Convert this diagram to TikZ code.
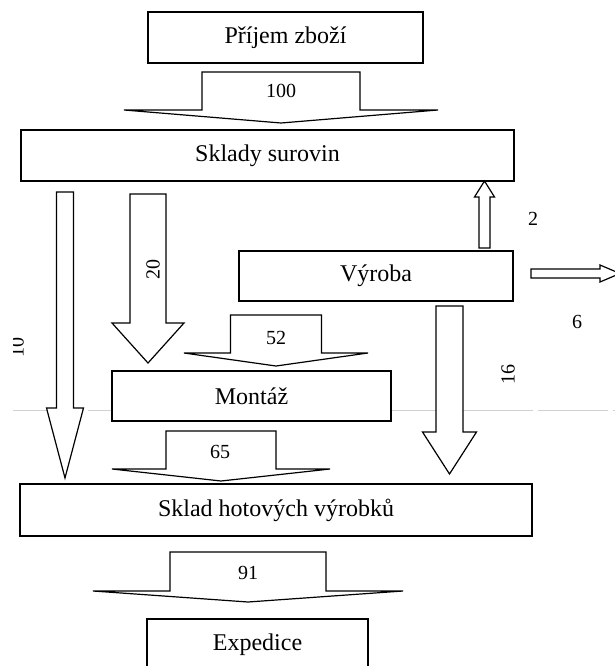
\documentclass[tikz,border=0pt]{standalone}
\usepackage{fontspec}
\setmainfont{Liberation Serif}
% vertical block arrow: centre x, shaft half width, top y, shoulder y, head half width, tip y
\newcommand{\vflow}[6]{%
  \draw[flow] (#1-#2,#3) -- (#1+#2,#3) -- (#1+#2,#4) -- (#1+#5,#4) -- (#1,#6)
    -- (#1-#5,#4) -- (#1-#2,#4) -- cycle;}
\begin{document}
\begin{tikzpicture}[x=1pt,y=-1pt,
  box/.style={draw, line width=1.8pt, fill=white, inner sep=0pt,
    font=\fontsize{24}{28}\selectfont},
  flow/.style={draw, line width=1.2pt, line join=miter, fill=white},
  qty/.style={font=\fontsize{20}{24}\selectfont, inner sep=0pt}]
\useasboundingbox (0,0) rectangle (615,666);

% faint rule running across the sheet
\draw[black!18, line width=0.8pt, dash pattern=on 70pt off 5pt] (13,410) -- (615,410);

% stations
\node[box, minimum width=275pt, minimum height=51pt] (prijem)  at (285.5,37.5) {Příjem zboží};
\node[box, minimum width=493pt, minimum height=51pt] (sklady)  at (267.5,155.5) {Sklady surovin};
\node[box, minimum width=274pt, minimum height=50pt] (vyroba)  at (376,276) {Výroba};
\node[box, minimum width=279pt, minimum height=50pt] (montaz)  at (251.5,396) {Montáž};
\node[box, minimum width=512pt, minimum height=52pt] (hotove)  at (276,510) {Sklad hotových výrobků};
\node[box, minimum width=221pt, minimum height=52pt] (expedice) at (257.5,645) {Expedice};

% material flows
\vflow{281}{79}{72}{110}{157}{123}      % receipt -> raw stores
\vflow{65}{8.5}{192}{408}{18.5}{478}    % raw stores -> finished goods
\vflow{148}{18}{194}{323}{36}{363}      % raw stores -> assembly
\vflow{276}{45.5}{315}{353}{92}{366}    % production -> assembly
\vflow{449.5}{13.5}{306}{432}{27}{474}  % production -> finished goods
\vflow{221}{55}{431}{469}{109}{481}     % assembly -> finished goods
\vflow{248}{78}{552}{591}{155}{602}     % finished goods -> dispatch
% production back to raw stores
\draw[flow] (479,248) -- (490,248) -- (490,197) -- (494.5,197) -- (484.5,181)
  -- (474.5,197) -- (479,197) -- cycle;
% production losses leaving to the right
\draw[flow] (531,269) -- (600,269) -- (600,265) -- (620,273.5) -- (600,282)
  -- (600,278) -- (531,278) -- cycle;

% quantities
\node[qty] (q100) at (281,91) {100};
\node[qty] (q52) at (276,338) {52};
\node[qty] (q65) at (220,452) {65};
\node[qty] (q91) at (248,573) {91};
\node[qty] (q2) at (533,219) {2};
\node[qty] (q6) at (577,322) {6};
\node[qty, rotate=90] (q20) at (153,269) {20};
\node[qty, rotate=90] (q16) at (508,374) {16};
\begin{scope}
  \clip (13,0) rectangle (615,666);
  \node[qty, rotate=90] (q10) at (17,347) {10};
\end{scope}
\end{tikzpicture}
\end{document}
